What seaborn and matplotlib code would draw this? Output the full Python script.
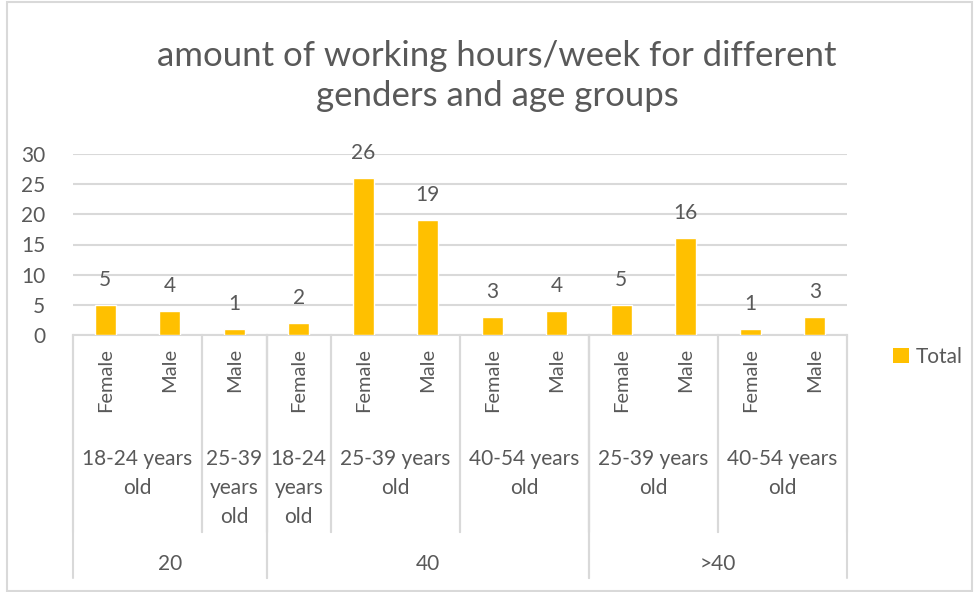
import numpy as np
import pandas as pd
import seaborn as sns
import matplotlib.pyplot as plt
from matplotlib.patches import Patch, Rectangle
import matplotlib.transforms as mtransforms

# ---- data ----
hours = ["20", "20", "20", "40", "40", "40", "40", "40", ">40", ">40", ">40", ">40"]
ages = ["18-24 years old", "18-24 years old", "25-39 years old", "18-24 years old",
        "25-39 years old", "25-39 years old", "40-54 years old", "40-54 years old",
        "25-39 years old", "25-39 years old", "40-54 years old", "40-54 years old"]
genders = ["Female", "Male", "Male", "Female", "Female", "Male",
           "Female", "Male", "Female", "Male", "Female", "Male"]
values = [5, 4, 1, 2, 26, 19, 3, 4, 5, 16, 1, 3]
title = "amount of working hours/week for different\ngenders and age groups"
series_name = "Total"

BAR = "#FFC000"
TXT = "#595959"
GRID = "#D9D9D9"

sns.set_theme(style="white")
plt.rcParams["font.family"] = ["Lato", "DejaVu Sans"]

W, H = 975, 592
fig = plt.figure(figsize=(W / 100, H / 100), dpi=100)
ax = fig.add_axes([73 / W, 1 - 335 / H, (847 - 73) / W, (335 - 154) / H])

df = pd.DataFrame({"slot": [f"s{i}" for i in range(len(values))], "value": values})
sns.barplot(data=df, x="slot", y="value", color=BAR, width=0.33, ax=ax,
            saturation=1, errorbar=None, zorder=3)

ax.set_ylim(0, 30)
ax.set_xlim(-0.5, len(values) - 0.5)
ax.set_yticks(range(0, 31, 5))
ax.yaxis.grid(True, color=GRID, linewidth=1.5, zorder=0)
ax.set_axisbelow(True)
for s in ["top", "right", "left"]:
    ax.spines[s].set_visible(False)
ax.spines["bottom"].set_color(GRID)
ax.spines["bottom"].set_linewidth(1.5)
ax.tick_params(axis="y", length=0, pad=20, labelsize=15, labelcolor=TXT)
ax.set_xticks([])
ax.set_xlabel("")
ax.set_ylabel("")

for c in ax.containers:
    ax.bar_label(c, padding=11, fontsize=15, color=TXT)

trans = mtransforms.blended_transform_factory(ax.transData, fig.transFigure)

def fy(px):
    return 1 - px / H

# gender labels
for i, g in enumerate(genders):
    ax.text(i, fy(348), g, rotation=90, ha="center", va="top", fontsize=14.5,
            color=TXT, transform=trans)

def runs(keys):
    out = []
    start = 0
    for i in range(1, len(keys) + 1):
        if i == len(keys) or keys[i] != keys[start]:
            out.append((start, i - 1))
            start = i
    return out

age_keys = list(zip(hours, ages))
age_runs = runs(age_keys)
hour_runs = runs(hours)

# age-level labels and separators
for a, b in age_runs:
    label = ages[a]
    parts = label.split(" ")
    if b - a + 1 == 1:
        txt = "\n".join(parts)
    else:
        txt = " ".join(parts[:-1]) + "\n" + parts[-1]
    ax.text((a + b) / 2, fy(449), txt, ha="center", va="top", fontsize=15,
            color=TXT, transform=trans, linespacing=1.55)
    for edge in (a - 0.5, b + 0.5):
        ax.plot([edge, edge], [fy(335), fy(532)], color=GRID, lw=1.5,
                transform=trans, clip_on=False)

# hour-level labels and separators
for a, b in hour_runs:
    ax.text((a + b) / 2, fy(564), hours[a], ha="center", va="center", fontsize=15,
            color=TXT, transform=trans)
    for edge in (a - 0.5, b + 0.5):
        ax.plot([edge, edge], [fy(335), fy(578)], color=GRID, lw=1.5,
                transform=trans, clip_on=False)

fig.text(497 / W, fy(76), title, ha="center", va="center", fontsize=25,
         color=TXT, linespacing=1.3)

leg = fig.legend(handles=[Patch(facecolor=BAR, edgecolor="none", label=series_name)],
                 loc="center left", bbox_to_anchor=(893 / W, fy(357)), frameon=False,
                 fontsize=15, handlelength=0.75, handleheight=0.75, handletextpad=0.35,
                 borderpad=0, borderaxespad=0, labelcolor=TXT)

fig.add_artist(Rectangle((7 / W, 1 / H), (972 - 7) / W, (590 - 1) / H,
                         transform=fig.transFigure, fill=False, edgecolor=GRID, lw=1.5))

fig.savefig("out.png", dpi=100)
